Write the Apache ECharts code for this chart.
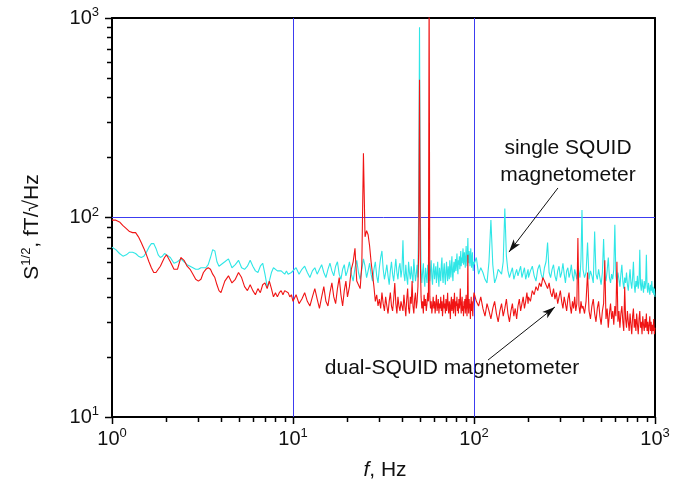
<!DOCTYPE html>
<html>
<head>
<meta charset="utf-8">
<script src="https://cdn.jsdelivr.net/npm/echarts@6/dist/echarts.min.js"></script>
<style>html,body{margin:0;padding:0;background:#fff;}#c{width:682px;height:487px;}</style>
</head>
<body>
<div id="c"></div>
<script>
// ---- data ----
const freq1 = [1.00,1.05,1.10,1.15,1.20,1.25,1.30,1.35,1.40,1.45,1.50,1.55,1.60,1.65,1.70,1.75,1.80,1.85,1.90,1.95,
  2.0,2.1,2.2,2.3,2.4,2.5,2.6,2.7,2.8,2.9,3.0,3.1,3.2,3.3,3.4,3.5,3.6,3.7,3.8,3.9,
  4.0,4.2,4.4,4.6,4.8,5.0,5.2,5.4,5.6,5.8,6.0,6.2,6.4,6.6,6.8,7.0,7.2,7.4,7.6,7.8,8.0,8.2,8.4,8.6,8.8,9.0,9.2,9.4,9.6,9.8];
const cyan1 = [71,69,66,64,65,67,67,66,64,63,64,67,71,74,74,70,65,63,64,66,
  66,63,59,60,62,60,58,57,56,55,55,56,56,56,58,63,69,68,60,57,
  57,60,62,56,58,61,56,55,57,61,57,54,53,57,59,52,45,48,53,56,55,54,55,54,53,52,54,52,51,53];
const red1 = [97,97,95,91,88,85,84,84,80,75,70,65,60,56,53,53,55,57,60,63,
  65,60,55,55,63,61,57,55,52,49,48,49,53,55,56,55,52,50,46,43,
  42,48,51,47,49,53,50,45,43,46,43,41,44,42,46,47,44,48,44,40,42,40,42,43,41,43,44,42,40,41];

const freq2 = [10.0,10.4,10.8,11.2,11.6,12.0,12.4,12.8,13.2,13.6,14.0,14.4,14.8,15.2,15.6,16.0,16.4,16.8,17.2,17.6,18.0,18.4,18.8,19.2,19.6,
  20.0,20.5,21.0,21.5,22.0,22.5,23.0,23.5,24.0,24.5,25.0,25.5,26.0,26.5,27.0,27.5,28.0,28.5,29.0,29.5,
  30.0,30.5,31.0,31.5,32.0,32.5,33.0,33.5,34.0,34.5,35.0,35.5,36.0,36.5,37.0,37.5,38.0,38.5,39.0,39.5];
const cyan2 = [54,56,52,55,57,53,50,54,56,52,55,58,53,50,55,59,54,51,57,60,52,49,55,58,51,
  54,60,52,48,56,61,53,49,55,62,57,50,54,59,52,48,55,60,51,47,
  56,63,68,55,49,53,58,51,46,54,60,52,48,55,62,53,49,56,59,50];
const red2 = [38,41,37,39,42,38,36,40,44,39,35,40,45,38,36,42,47,40,37,44,50,41,36,43,48,
  40,45,55,60,70,48,47,44,58,210,80,86,82,72,60,52,45,38,41,36,
  39,35,42,37,34,40,36,33,38,42,36,34,39,47,37,33,40,36,34,38];

const freq3 = [40.0,40.5,41.0,41.5,42.0,42.5,43.0,43.5,44.0,44.5,45.0,45.5,46.0,46.5,47.0,47.5,48.0,48.5,49.0,49.5,
  50.0,50.5,51.0,51.5,52.0,52.5,53.0,53.5,54.0,54.5,55.0,55.5,56.0,56.5,57.0,57.5,58.0,58.5,59.0,59.5,
  60.0,60.5,61.0,61.5,62.0,62.5,63.0,63.5,64.0,64.5,65.0,65.5,66.0,66.5,67.0,67.5,68.0,68.5,69.0,69.5,
  70.0,70.5,71.0,71.5,72.0,72.5,73.0,73.5,74.0,74.5,75.0,75.5,76.0,76.5,77.0,77.5,78.0,78.5,79.0,79.5,
  80.0,80.5,81.0,81.5,82.0,82.5,83.0,83.5,84.0,84.5,85.0,85.5,86.0,86.5,87.0,87.5,88.0,88.5,89.0,89.5,
  90.0,90.5,91.0,91.5,92.0,92.5,93.0,93.5,94.0,94.5,95.0,95.5,96.0,96.5,97.0,97.5,98.0,98.5,99.0,99.5];
const cyan3 = [55,77,52,48,58,50,46,60,53,49, 57,51,47,62,54,48,52,58,50,120,
  900,110,55,47,53,59,49,45,56,51, 47,58,52,60,48,54,61,50,46,55,
  59,49,53,57,47,52,60,50,45,56, 52,48,58,63,51,47,55,59,50,46,
  54,60,52,48,57,53,49,61,55,50, 58,64,52,48,56,60,53,57,62,54,
  59,66,56,52,61,58,64,55,60,68, 57,63,59,65,70,58,62,67,60,56,
  64,72,61,57,66,79,63,59,68,62, 57,65,70,60,56,63,67,58,54,60];
const red3 = [38,34,41,36,32,39,44,35,33,40, 37,48,36,33,39,42,35,38,45,70,
  490,62,40,35,38,33,41,36,39,34, 37,42,38,1500,40,35,38,33,36,40,
  35,38,33,37,41,34,36,39,33,37, 35,40,34,38,32,36,41,35,37,33,
  39,34,37,42,35,33,38,36,31,37, 40,34,36,39,33,37,42,35,32,38,
  36,40,34,37,33,39,35,38,44,36, 33,37,40,34,36,32,38,35,39,33,
  37,41,35,32,38,65,36,33,39,35, 37,31,36,40,34,38,35,32,37,40];

const freq4 = [100,103,106,109,112,115,118,121,124,127,130,133,136,139,142,145,148,151,154,157,160,163,166,169,172,175,178,181,184,187,190,193,196,199,
  200,205,210,215,220,225,230,235,240,245,250,255,260,265,270,275,280,285,290,295,300,305,310,315,320,325,330,335,340,345,350,355,360,365,370,375,380,385,390,395,
  400,408,416,424,432,440,448,456,464,472,480,488,496,504,512,520,528,536,544,552,560,568,576,584,592,600,608,616,624,632,
  640,648,656,664,672,680,688,696,704,712,720,728,736,744,752,760,768,776,784,792,800,808,816,824,832,840,848,856,864,872,
  880,888,896,904,912,920,928,936,944,952,960,968,976,984,992,1000];
const cyan4 = [58,63,52,56,53,49,47,60,97,58,47,50,55,56,52,60,111,64,54,50,53,56,49,52,55,51,54,57,50,53,56,49,52,55,
  50,54,57,51,48,55,58,52,49,56,60,75,53,50,55,58,51,48,54,57,50,53,59,52,47,54,56,50,53,58,51,48,55,52,49,57,53,50,62,109,
  55,50,53,75,49,54,51,47,85,52, 49,55,50,46,53,78,51,48,54,63, 50,47,52,49,55,92,51,47,53,49,
  45,52,58,48,44,50,47,53,46,43, 49,55,47,44,50,60,46,42,48,45, 51,44,47,69,46,43,49,45,42,48,
  44,47,65,45,42,47,44,41,46,43, 48,42,45,41,44,40];
const red4 = [42,38,36,40,35,32,37,34,31,35,38,33,30,34,37,32,35,39,33,30,34,37,32,35,31,36,39,34,37,40,35,38,42,37,
  40,38,43,41,45,43,47,45,50,48,46,44,47,42,40,44,39,42,37,40,43,38,35,40,37,34,39,42,36,33,38,35,40,34,37,79,36,33,38,35,
  36,33,38,53,34,31,36,39,33,30, 35,38,32,29,34,37,61,31,35,28, 33,37,31,34,29,36,32,60,30,34,
  28,33,36,30,27,45,31,28,34,30, 27,33,29,26,32,35,28,31,27,33, 29,26,31,34,28,30,26,32,29,27,
  31,28,33,27,30,26,29,32,27,30, 26,29,27,31,26,28];

// tick / grid values
const xMajorTicks = [1,10,100,1000];
const yMajorTicks = [10,100,1000];
const xMinorTicks = [2,3,4,5,6,7,8,9,20,30,40,50,60,70,80,90,200,300,400,500,600,700,800,900];
const yMinorTicks = [20,30,40,50,60,70,80,90,200,300,400,500,600,700,800,900];
const xGridLines = [10,100];
const yGridLines = [100];

// annotation arrows (data coordinates: [f, S])
const arrowSingle = [[291,140.6],[156,67.1]];
const arrowDual = [[119.5,19.3],[280,35.6]];

// ---- build ----
const FONT = "'Liberation Sans', Arial, sans-serif";
const X_MIN = 1, X_MAX = 1000, Y_MIN = 10, Y_MAX = 1000;
function pairs(fs, vs){ return fs.map((f,i)=>[f, vs[i]]); }
const cyanData = pairs(freq1,cyan1).concat(pairs(freq2,cyan2), pairs(freq3,cyan3), pairs(freq4,cyan4));
const redData = pairs(freq1,red1).concat(pairs(freq2,red2), pairs(freq3,red3), pairs(freq4,red4));

const labelRich = {
  b:{fontSize:20, fontFamily:FONT, color:'#111', lineHeight:24},
  s:{fontSize:13, fontFamily:FONT, color:'#111', lineHeight:13, padding:[0,0,11,0]}
};
function powLabel(v){ return '{b|10}{s|' + Math.round(Math.log10(v)) + '}'; }
const BLUE = '#3c3cf0';
const crisp = v => Math.round(v) + 0.5;

function xTickRender(len){
  return function(params, api){
    const p = api.coord([api.value(0), api.value(1)]);
    const x = crisp(p[0]);
    return {type:'line', shape:{x1:x, y1:p[1], x2:x, y2:p[1]+len}, style:{stroke:'#000', lineWidth:1.5}};
  };
}
function yTickRender(len){
  return function(params, api){
    const p = api.coord([api.value(0), api.value(1)]);
    const y = crisp(p[1]);
    return {type:'line', shape:{x1:p[0]-len, y1:y, x2:p[0], y2:y}, style:{stroke:'#000', lineWidth:1.5}};
  };
}
function xGridRender(params, api){
  const a = api.coord([api.value(0), Y_MIN]);
  const b = api.coord([api.value(0), Y_MAX]);
  const x = crisp(a[0]);
  return {type:'line', shape:{x1:x, y1:a[1], x2:x, y2:b[1]}, style:{stroke:BLUE, lineWidth:1}};
}
function yGridRender(params, api){
  const a = api.coord([X_MIN, api.value(1)]);
  const b = api.coord([X_MAX, api.value(1)]);
  const y = crisp(a[1]);
  return {type:'line', shape:{x1:a[0], y1:y, x2:b[0], y2:y}, style:{stroke:BLUE, lineWidth:1}};
}
function helper(name, data, render, z){
  return {name:name, type:'custom', xAxisIndex:0, yAxisIndex:0, data:data, renderItem:render,
          clip:false, silent:true, z:z, animation:false};
}

const chart = echarts.init(document.getElementById('c'), null, {renderer:'canvas'});
const option = {
  animation:false,
  backgroundColor:'#ffffff',
  grid:{left:112, right:27, top:18, bottom:70},
  xAxis:[
    {type:'log', logBase:10, min:X_MIN, max:X_MAX, position:'bottom',
     axisLine:{show:true, onZero:false, lineStyle:{color:'#000', width:2}},
     axisTick:{show:false},
     axisLabel:{show:true, margin:10, formatter:powLabel, rich:labelRich},
     splitLine:{show:false}},
    {type:'log', logBase:10, min:X_MIN, max:X_MAX, position:'top',
     axisLine:{show:true, onZero:false, lineStyle:{color:'#000', width:2}},
     axisTick:{show:false}, axisLabel:{show:false}, splitLine:{show:false}}
  ],
  yAxis:[
    {type:'log', logBase:10, min:Y_MIN, max:Y_MAX, position:'left',
     axisLine:{show:true, onZero:false, lineStyle:{color:'#000', width:2}},
     axisTick:{show:false},
     axisLabel:{show:true, margin:13, formatter:powLabel, rich:labelRich},
     splitLine:{show:false}},
    {type:'log', logBase:10, min:Y_MIN, max:Y_MAX, position:'right',
     axisLine:{show:true, onZero:false, lineStyle:{color:'#000', width:2}},
     axisTick:{show:false}, axisLabel:{show:false}, splitLine:{show:false}}
  ],
  series:[
    helper('xGrid', xGridLines.map(v=>[v, Y_MIN]), xGridRender, 1),
    helper('yGrid', yGridLines.map(v=>[X_MIN, v]), yGridRender, 1),
    {name:'single SQUID', type:'line', xAxisIndex:0, yAxisIndex:0, data:cyanData,
     showSymbol:false, symbol:'none', clip:true, z:2,
     lineStyle:{color:'#2fe6e6', width:1.1}},
    {name:'dual-SQUID', type:'line', xAxisIndex:0, yAxisIndex:0, data:redData,
     showSymbol:false, symbol:'none', clip:true, z:2,
     lineStyle:{color:'#f01414', width:1.1},
     markLine:{silent:true, animation:false, symbol:['none','arrow'], symbolSize:[6,13],
       lineStyle:{color:'#111', width:1, type:'solid'}, label:{show:false},
       emphasis:{disabled:true},
       data:[[{coord:arrowSingle[0]},{coord:arrowSingle[1]}],[{coord:arrowDual[0]},{coord:arrowDual[1]}]]}},
    helper('xMajorTicks', xMajorTicks.map(f=>[f, Y_MIN]), xTickRender(7), 5),
    helper('xMinorTicks', xMinorTicks.map(f=>[f, Y_MIN]), xTickRender(5), 5),
    helper('yMajorTicks', yMajorTicks.map(v=>[X_MIN, v]), yTickRender(7), 5),
    helper('yMinorTicks', yMinorTicks.map(v=>[X_MIN, v]), yTickRender(5), 5)
  ],
  graphic:[
    {type:'text', x:32, y:227, rotation:Math.PI/2,
     style:{text:'{a|S}{s|1/2}{a|, fT/\u221AHz}', align:'center', verticalAlign:'middle',
       rich:{a:{fontSize:21, fontFamily:FONT, fill:'#111', lineHeight:24},
             s:{fontSize:13, fontFamily:FONT, fill:'#111', lineHeight:13, padding:[0,0,11,0]}}}},
    {type:'text', x:385, y:470,
     style:{text:'{i|f}{a|, Hz}', align:'center', verticalAlign:'middle',
       rich:{a:{fontSize:21, fontFamily:FONT, fill:'#111'}, i:{fontSize:21, fontFamily:FONT, fontStyle:'italic', fill:'#111'}}}},
    {type:'text', x:568, y:162,
     style:{text:'single SQUID\nmagnetometer', fontSize:21, fontFamily:FONT, fill:'#111', align:'center', verticalAlign:'middle', lineHeight:27}},
    {type:'text', x:452, y:368,
     style:{text:'dual-SQUID magnetometer', fontSize:21, fontFamily:FONT, fill:'#111', align:'center', verticalAlign:'middle'}}
  ]
};
chart.setOption(option);
</script>
</body>
</html>
